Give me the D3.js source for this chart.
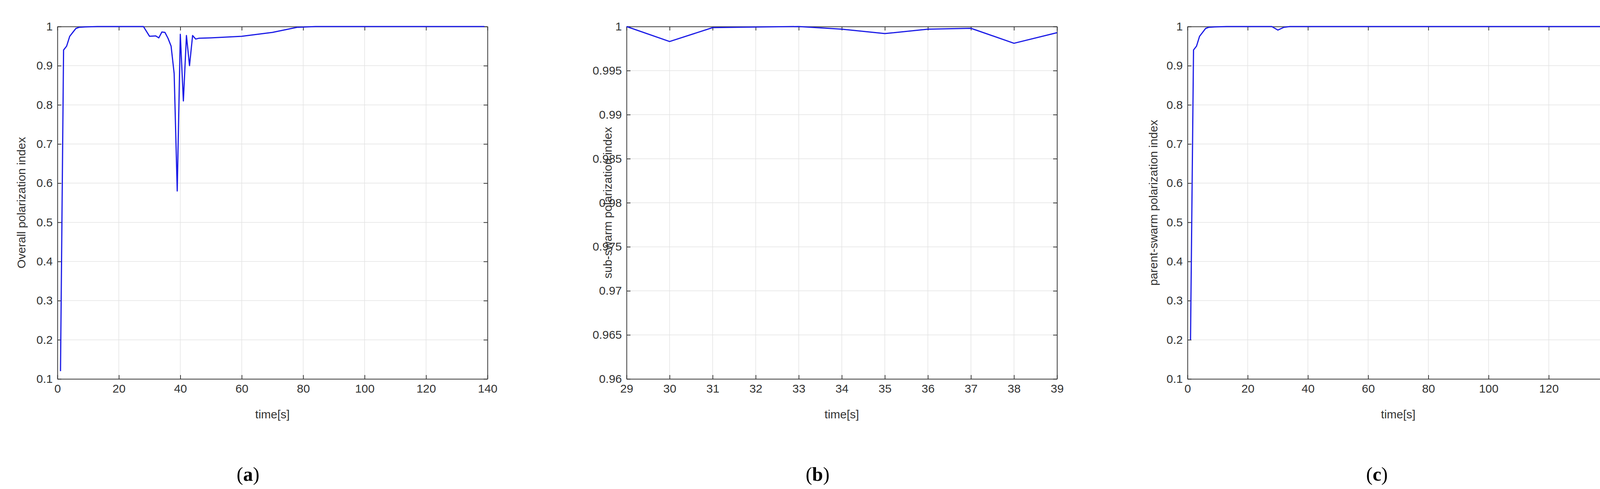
<!DOCTYPE html>
<html><head><meta charset="utf-8">
<script src="https://cdn.jsdelivr.net/npm/d3@7"></script>
<style>body{margin:0;background:#fff}</style>
</head><body>
<script>
// panel (a): overall polarization
var timeA = [1,2,3,4,5,6,7,9,13,28,30,32,33,34,35,36,37,38,39,40,41,42,43,44,45,46,50,60,70,78,84,139];
var valA  = [0.12,0.94,0.95,0.975,0.985,0.995,0.998,0.999,1,1,0.975,0.976,0.971,0.986,0.985,0.97,0.95,0.88,0.58,0.98,0.81,0.977,0.90,0.977,0.968,0.97,0.971,0.975,0.985,0.998,1,1];
// panel (b): sub-swarm zoom 29..39
var timeB = [29,30,31,32,33,34,35,36,37,38,39];
var valB  = [1,0.9983,0.99988,0.99995,1,0.9997,0.9992,0.9997,0.9998,0.9981,0.9993];
// panel (c): parent swarm
var timeC = [1,2,3,4,5,6,7,9,13,28,30,32,34,139];
var valC  = [0.2,0.94,0.95,0.975,0.985,0.995,0.998,0.999,1,1,0.991,0.998,1,1];

var ticksY1 = [0.1,0.2,0.3,0.4,0.5,0.6,0.7,0.8,0.9,1];
var ticksYB = [0.96,0.965,0.97,0.975,0.98,0.985,0.99,0.995,1];
var ticksX1 = [0,20,40,60,80,100,120,140];
var ticksXB = [29,30,31,32,33,34,35,36,37,38,39];

var W = 4227, H = 1253;
var svg = d3.select("body").append("svg").attr("width", W).attr("height", H)
  .style("font-family", "Arial, 'Liberation Sans', sans-serif");

var panels = [
  {x0:147, x1:1248, xd:[0,140], yd:[0.1,1], xt:ticksX1, yt:ticksY1, t:timeA, v:valA, yl:"Overall polarization index", ylx:54, cap:"a", capx:635},
  {x0:1604, x1:2706, xd:[29,39], yd:[0.96,1], xt:ticksXB, yt:ticksYB, t:timeB, v:valB, yl:"sub-swarm polarization index", ylx:1555, cap:"b", capx:2093},
  {x0:3040, x1:4119, xd:[0,140], yd:[0.1,1], xt:ticksX1, yt:ticksY1, t:timeC, v:valC, yl:"parent-swarm polarization index", ylx:2952, cap:"c", capx:3525}
];
var plotTop = 68, plotBottom = 971;

panels.forEach(function(p){
  var x = d3.scaleLinear().domain(p.xd).range([p.x0, p.x1]);
  var y = d3.scaleLinear().domain(p.yd).range([plotBottom, plotTop]);
  var g = svg.append("g");

  //grid
  g.selectAll(".gx").data(p.xt).enter().append("line")
    .attr("x1", d => x(d)).attr("x2", d => x(d)).attr("y1", plotTop).attr("y2", plotBottom)
    .attr("stroke", "#e3e3e3").attr("stroke-width", 1.5);
  g.selectAll(".gy").data(p.yt).enter().append("line")
    .attr("y1", d => y(d)).attr("y2", d => y(d)).attr("x1", p.x0).attr("x2", p.x1)
    .attr("stroke", "#e3e3e3").attr("stroke-width", 1.5);

  var fmt = d => String(+d.toFixed(3));
  var axB = d3.axisBottom(x).tickValues(p.xt).tickFormat(fmt).tickSizeInner(-10).tickSizeOuter(0).tickPadding(14);
  var axL = d3.axisLeft(y).tickValues(p.yt).tickFormat(fmt).tickSizeInner(-10).tickSizeOuter(0).tickPadding(12);
  var axT = d3.axisTop(x).tickValues(p.xt).tickFormat("").tickSizeInner(-10).tickSizeOuter(0);
  var axR = d3.axisRight(y).tickValues(p.yt).tickFormat("").tickSizeInner(-10).tickSizeOuter(0);
  [[axB,"translate(0,"+plotBottom+")"],[axL,"translate("+p.x0+",0)"],[axT,"translate(0,"+plotTop+")"],[axR,"translate("+p.x1+",0)"]]
    .forEach(function(a){
      var ag = g.append("g").attr("transform", a[1]).call(a[0]);
      ag.selectAll("path,line").attr("stroke", "#3a3a3a").attr("stroke-width", 2);
      ag.selectAll("text").attr("fill", "#333").style("font-size", "30px").style("font-family", "Arial, 'Liberation Sans', sans-serif");
    });

  var line = d3.line().x(d => x(d[0])).y(d => y(d[1]));
  g.append("path").datum(d3.zip(p.t, p.v)).attr("d", line)
    .attr("fill", "none").attr("stroke", "#1a1ae6").attr("stroke-width", 3).attr("stroke-linejoin", "round");

  g.append("text").attr("x", (p.x0 + p.x1) / 2).attr("y", 1072).attr("text-anchor", "middle")
    .attr("fill", "#333").style("font-size", "30px").text("time[s]");
  g.append("text").attr("transform", "translate(" + p.ylx + "," + (plotTop + plotBottom) / 2 + ") rotate(-90)")
    .attr("text-anchor", "middle").attr("dy", "0.35em").attr("fill", "#333").style("font-size", "30px").text(p.yl);

  var cap = g.append("text").attr("x", p.capx).attr("y", 1232).attr("text-anchor", "middle")
    .style("font-family", "'Liberation Serif', 'DejaVu Serif', serif").style("font-size", "50px").attr("fill", "#000");
  cap.append("tspan").text("(");
  cap.append("tspan").attr("font-weight", "bold").text(p.cap);
  cap.append("tspan").text(")");
});
</script>
</body></html>
